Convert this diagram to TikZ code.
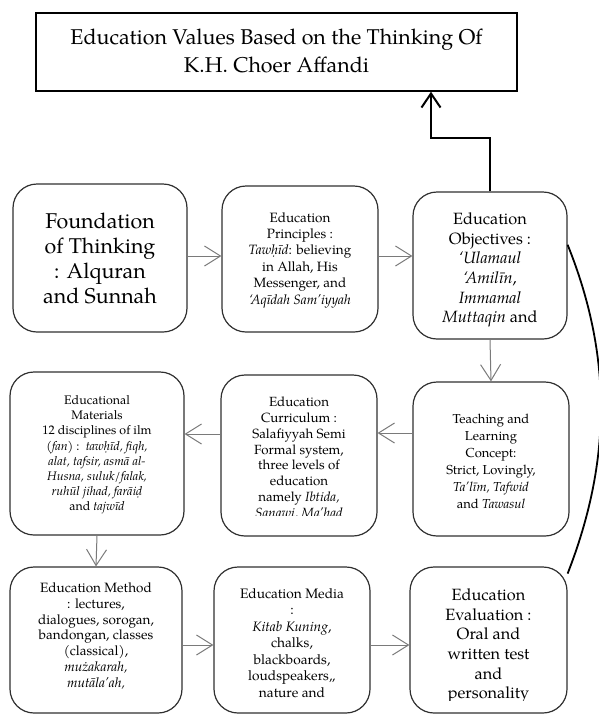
\documentclass[tikz,border=0pt]{standalone}
\usepackage{fontspec}
\setmainfont{texgyrepagella}[Extension=.otf,UprightFont=*-regular,ItalicFont=*-italic,BoldFont=*-bold,BoldItalicFont=*-bolditalic]
\usetikzlibrary{arrows.meta}
\definecolor{boxc}{HTML}{303030}
\definecolor{arrc}{HTML}{7A7A7A}
\newcommand\fs[2]{\fontsize{#1}{#2}\selectfont}
\begin{document}
\begin{tikzpicture}[x=1pt,y=-1pt,
  box/.style={draw=boxc,line width=1.2pt,rounded corners=24pt,inner sep=0pt},
  txt/.style={align=center,inner sep=0pt},
  conn/.style={draw=arrc,line width=1pt,-{Straight Barb[length=16pt,width=20pt]}},
  toparrow/.style={draw=black,line width=2pt,-{Straight Barb[length=14pt,width=19pt]}},
  curveline/.style={draw=black,line width=1.8pt}]
\useasboundingbox (0,0) rectangle (598,715);
% title
\node[draw=black,line width=1.5pt,minimum width=481pt,minimum height=78pt,inner sep=0pt] (title) at (276.5,52) {};
\node[txt,font=\fs{21.4}{28}] (titleT) at (276.5,51) {Education Values Based on the Thinking Of\\K.H. Choer Affandi};
% row 1
\node[box,minimum width=174pt,minimum height=148pt] (found) at (100,258) {};
\node[txt,font=\fs{21.4}{25}] (foundT) at (100,258) {Foundation\\of Thinking\\: Alquran\\and Sunnah};
\node[box,minimum width=156pt,minimum height=146pt] (prin) at (300,259) {};
\node[txt,font=\fs{13.5}{16.4}] (prinT) at (300,260) {Education\\Principles :\\\textit{Tawḥīd}: believing\\in Allah, His\\Messenger, and\\\textit{‘Aqīdah Sam’iyyah}};
\node[box,minimum width=154pt,minimum height=147pt] (obj) at (490,265.5) {};
\node[txt,font=\fs{16.3}{19.7}] (objT) at (490,270) {Education\\Objectives :\\\textit{‘Ulamaul}\\\textit{‘Amilīn},\\\textit{Immamal}\\\textit{Muttaqin} and};
% row 2
\node[box,minimum width=174pt,minimum height=163pt] (mat) at (97,453.5) {};
\node[txt,font=\fs{12.4}{15.2}] (matT) at (97,455) {Educational\\Materials\\12 disciplines of ilm\\(\textit{fan}) :~~\textit{tawḥīd, fiqh,}\\\textit{alat, tafsir, asmā al-}\\\textit{Husna, suluk/falak,}\\\textit{ruhūl jihad, farāiḍ}\\and \textit{tajwīd}};
\node[box,minimum width=156pt,minimum height=161pt] (curr) at (299,455.5) {};
\begin{scope}
\clip (curr.north west) rectangle (curr.east |- 0,515);
\node[txt,font=\fs{13.3}{15.8}] (currT) at (299,458.5) {Education\\Curriculum :\\Salafiyyah Semi\\Formal system,\\three levels of\\education\\namely \textit{Ibtida,}\\\textit{Ṣanawi, Ma’had}};
\end{scope}
\node[box,minimum width=156pt,minimum height=154pt] (teach) at (491,459) {};
\node[txt,font=\fs{13}{17}] (teachT) at (491,461) {Teaching and\\Learning\\Concept:\\Strict, Lovingly,\\\textit{Ta’līm, Tafwid}\\and \textit{Tawasul}};
% row 3
\node[box,minimum width=172pt,minimum height=146pt] (meth) at (96,640) {};
\node[txt,font=\fs{13.5}{15.7}] (methT) at (96,636) {Education Method\\: lectures,\\dialogues, sorogan,\\bandongan, classes\\(classical),\\\textit{mużakarah,}\\\textit{mutāla’ah,}};
\node[box,minimum width=156pt,minimum height=146pt] (media) at (292,640) {};
\node[txt,font=\fs{13.7}{16.5}] (mediaT) at (292,643) {Education Media\\:\\\textit{Kitab Kuning},\\chalks,\\blackboards,\\loudspeakers,,\\nature and};
\node[box,minimum width=157pt,minimum height=146pt] (eval) at (488.5,640) {};
\begin{scope}
\clip (eval.north west) rectangle (eval.east |- 0,700);
\node[txt,font=\fs{16.3}{19.6}] (evalT) at (488.5,646) {Education\\Evaluation :\\Oral and\\written test\\and\\personality};
\end{scope}
% connectors
\draw[conn] (found.east |- 0,256) -- (prin.west |- 0,256);
\draw[conn] (prin.east |- 0,256) -- (obj.west |- 0,256);
\draw[conn] (obj.south) -- (teach.north);
\draw[conn] (teach.west |- 0,433) -- (curr.east |- 0,433);
\draw[conn] (curr.west |- 0,434) -- (mat.east |- 0,434);
\draw[conn] (mat.south) -- (meth.north);
\draw[conn] (meth.east |- 0,645) -- (media.west |- 0,645);
\draw[conn] (media.east |- 0,645) -- (eval.west |- 0,645);
\coordinate (tb) at (431,138);
\draw[toparrow] (obj.north) |- (tb) -- (tb |- title.south);
\draw[curveline] (obj.15) .. controls (612,355) and (612,460) .. (eval.40);
\end{tikzpicture}
\end{document}
